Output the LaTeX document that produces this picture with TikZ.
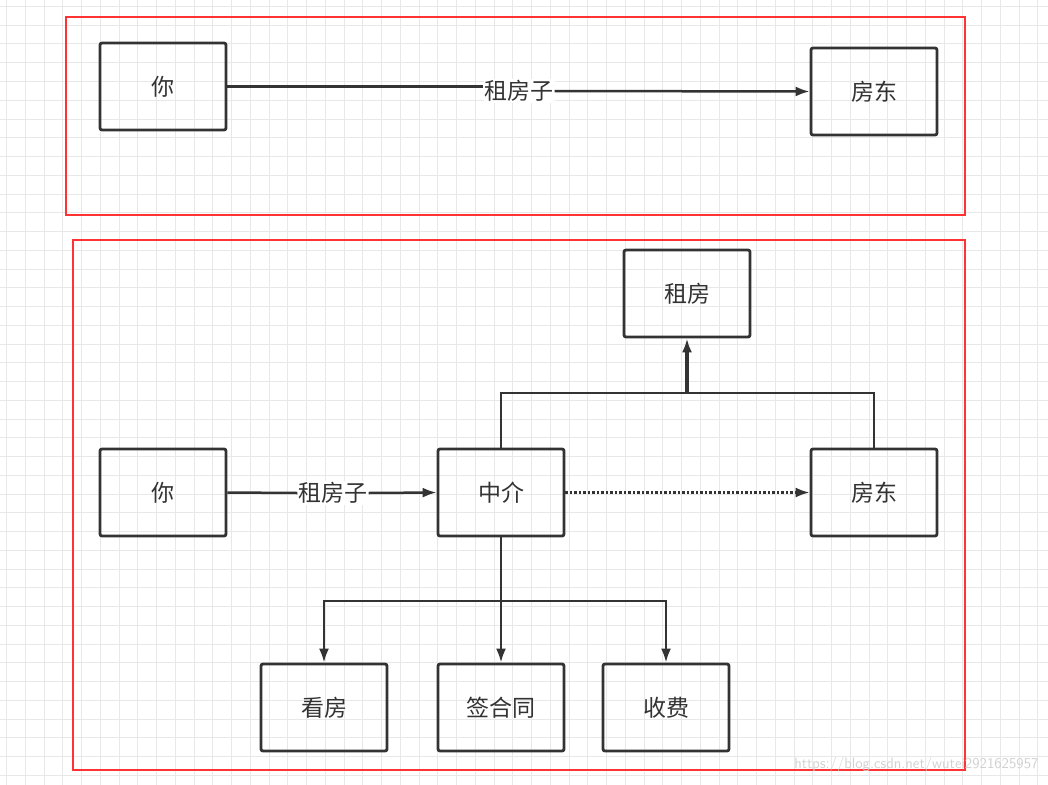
\documentclass[tikz,border=0pt]{standalone}
\usepackage{fontspec}
\setmainfont{Noto Sans CJK SC}
\usetikzlibrary{arrows.meta}
\begin{document}
\begin{tikzpicture}[x=1pt,y=-1pt,
  box/.style={draw=black!80,line width=2.8pt,rounded corners=2pt,minimum width=126pt,minimum height=87pt,inner sep=0pt,font=\fontsize{23}{27}\selectfont,text=black!80},
  red/.style={draw=red!80!white,line width=2.8pt},
  conn/.style={draw=black!80,line width=2.5pt},
  arr/.style={conn,-{Latex[length=14pt,width=10pt]}},
  lbl/.style={fill=white,inner sep=1pt,font=\fontsize{23}{27}\selectfont,text=black!80}]
\useasboundingbox (0,0) rectangle (1048,784);
\fill[white] (0,0) rectangle (1048,784);
\draw[black!9,line width=1pt,shift={(6.5,6.5)},step=18.75pt] (-6.5,-6.5) grid (1048,784);
% top panel
\draw[red] (66,17) rectangle (965,215);
\node[box] (y1) at (163,86.5) {你};
\node[box] (f1) at (874,91.5) {房东};
\node[lbl] (l1) at (519,91) {租房子};
\draw[conn] (y1.east) -- (l1.west |- y1.east);
\draw[arr] (l1.east) -- (f1.west);
% bottom panel
\draw[red] (73,240) rectangle (965,770);
\node[box] (zf) at (687,293.5) {租房};
\node[box] (y2) at (163,492.5) {你};
\node[box] (zj) at (501,492.5) {中介};
\node[box] (f2) at (874,492.5) {房东};
\node[box] (kf) at (324,707.5) {看房};
\node[box] (qh) at (501,707.5) {签合同};
\node[box] (sf) at (666,707.5) {收费};
\node[lbl] (l2) at (333,493) {租房子};
\draw[conn] (y2.east) -- (l2.west);
\draw[arr] (l2.east) -- (zj.west);
\draw[arr,dotted] (zj.east) -- (f2.west);
\coordinate (t) at (687,393);
\draw[conn] (zj.north) |- (t) -| (f2.north);
\draw[arr,line width=3.2pt] (t) -- (zf.south);
\coordinate (b) at (501,601);
\draw[arr] (zj.south) -- (qh.north);
\draw[arr] (b) -| (kf.north);
\draw[arr] (b) -| (sf.north);
\node[text=black!18,font=\fontsize{15}{18}\selectfont\sffamily,anchor=east] (wm) at (1042,765) {https://blog.csdn.net/wutei2921625957};
\end{tikzpicture}
\end{document}
